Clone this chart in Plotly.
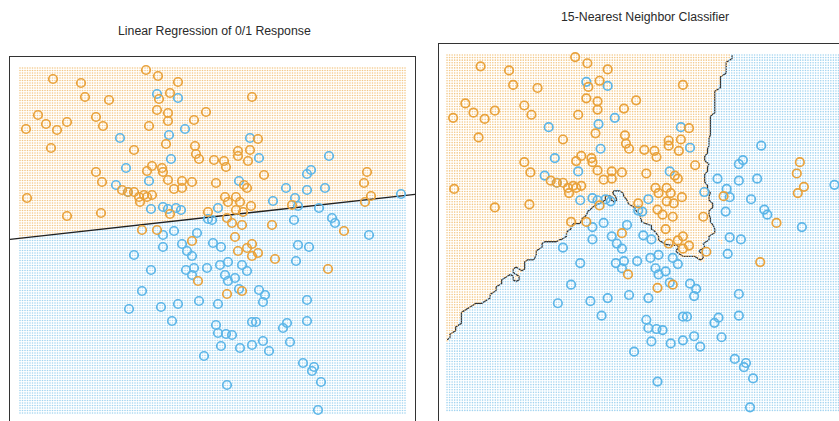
import numpy as np
import plotly.graph_objects as go

# ---------------- data ----------------
orange_x = [3.3, 6.1, 6.5, 8.9, 1.8, 2.6, 3.7, 4.7, 0.6, 7.6, 8.3, 3.1, 11.4, 7.6, 8.2, 0.7, 4.7, 8.1, 12.6,
            10.2, 10.8, 11.4, 11.9, 12.0, 12.4, 12.7, 13.2, 12.7, 13.2, 12.2, 13.7,
            13.8, 15.8, 15.0, 23.2, 13.7, 14.8, 14.8, 18.6, 17.4, 12.9, 14.6, 17.5, 17.6, 17.9, 19.4, 20.4,
            20.6, 21.8, 21.8, 23.0, 22.8, 23.8, 24.4, 14.2, 14.3, 14.8, 16.2, 16.2, 15.4, 17.2, 19.6, 22.4,
            22.7, 15.0, 20.5, 20.8, 21.6, 22.0, 23.1, 21.6, 22.3, 18.8, 20.7, 21.2, 22.2, 25.2, 21.5, 13.9,
            34.7, 34.4, 35.1, 34.5, 27.2, 32.4,
            17.2, 17.8, 20.7, 22.2, 21.8, 22.7, 23.2, 23.2, 23.8, 25.5, 30.8]
orange_y = [33.4, 33.0, 31.6, 31.3, 29.8, 28.9, 28.3, 29.1, 28.4, 29.6, 28.7, 26.5, 26.3, 24.1, 23.1, 21.5, 19.7, 20.0, 34.3,
            22.3, 22.1, 22.1, 21.6, 21.1, 21.8, 21.6, 21.8, 24.2, 24.7, 18.3, 18.3,
            33.7, 33.1, 32.0, 31.6, 30.3, 30.0, 29.2, 30.1, 29.3, 28.7, 26.9, 26.7, 25.9, 25.4, 25.3, 25.2,
            24.6, 26.2, 25.7, 26.3, 25.2, 27.4, 23.8, 24.5, 24.1, 23.3, 23.2, 22.5, 22.4, 23.1, 23.0, 22.8,
            22.5, 19.9, 21.6, 21.1, 21.6, 21.1, 20.7, 20.3, 20.1, 20.1, 19.5, 19.0, 18.8, 18.8, 17.6, 31.4,
            24.1, 23.0, 21.7, 21.1, 20.8, 18.2,
            17.2, 13.2, 11.9, 12.2, 16.2, 16.5, 16.9, 15.7, 16.0, 15.4, 14.4]

blue_x = [10.0, 10.6, 9.6, 10.8,
          13.7, 15.8, 16.5, 14.9, 23.0, 15.1, 23.9, 12.9, 21.9, 13.1, 14.3, 14.8, 15.6, 16.1, 19.8, 18.8,
          19.2, 25.3, 14.3, 15.4, 17.7,
          30.9, 29.1, 28.7, 26.6, 28.7, 30.5, 27.5, 27.8, 29.9, 27.4, 31.2, 31.5, 34.9, 38.1,
          11.4, 12.2, 10.9,
          14.3, 16.2, 16.7, 17.2, 19.3, 20.1, 13.1, 16.6, 17.4, 17.2, 18.7, 20.0, 20.8, 22.2, 22.7, 20.5,
          20.8, 21.5, 21.9, 23.9, 24.5, 24.3, 17.9, 19.8, 15.8, 14.1, 15.2, 19.6, 19.8, 20.6, 21.2, 23.2,
          23.6, 20.1, 22.0, 23.2, 24.3, 24.9, 18.4, 20.7,
          27.8, 28.9, 27.6, 28.7, 26.7, 26.3, 28.7, 27.0, 28.3, 29.4, 29.2, 30.1, 29.8]
blue_y = [27.5, 24.5, 22.8, 22.1,
          31.9, 31.5, 28.4, 27.8, 27.5, 25.4, 25.5, 23.2, 23.2, 20.4, 20.6, 20.4, 20.5, 20.3, 20.5, 19.4,
          19.3, 21.2, 17.8, 18.2, 18.0,
          25.7, 24.3, 23.9, 22.5, 22.3, 22.5, 21.5, 20.7, 20.5, 19.3, 19.5, 19.0, 17.8, 21.9,
          15.8, 12.2, 10.4,
          16.6, 16.9, 16.2, 15.7, 17.0, 16.6, 14.3, 14.3, 14.5, 13.8, 14.5, 14.8, 15.1, 14.8, 14.2, 13.8,
          13.2, 13.5, 12.4, 12.3, 11.8, 11.1, 11.2, 10.9, 10.9, 10.6, 9.2, 8.8, 8.0, 7.9, 7.8, 9.1,
          9.1, 6.7, 6.5, 6.8, 7.2, 6.2, 5.7, 2.8,
          16.8, 16.6, 15.2, 11.3, 9.0, 8.5, 9.2, 7.1, 5.0, 4.6, 4.2, 3.1, 0.3]

# linear regression decision boundary (end points)
lr_x = [-1.0, 39.5]
lr_y = [17.36, 21.87]

titles = ["Linear Regression of 0/1 Response", "15-Nearest Neighbor Classifier"]
k_neighbors = 15
grid_x_lim = [0.0, 38.5]
grid_y_lim = [0.0, 34.5]

# ---------------- computations ----------------
ORANGE = "#E9A23B"
BLUE = "#5DB6E8"
ORANGE_DOT = "#F3C888"
BLUE_DOT = "#A3D4F0"

X = np.column_stack([np.r_[orange_x, blue_x], np.r_[orange_y, blue_y]])
lab = np.r_[np.ones(len(orange_x)), np.zeros(len(blue_x))]
scale = np.array([0.1767, 0.1416])  # original variable units


def knn_prob(px, py):
    P = np.column_stack([px, py])
    d = (((P[:, None, :] - X[None, :, :]) * scale) ** 2).sum(-1)
    idx = np.argpartition(d, k_neighbors, axis=1)[:, :k_neighbors]
    return lab[idx].mean(1)


# dense dot grid
gx = np.arange(grid_x_lim[0], grid_x_lim[1] + 1e-9, 0.25)
gy = np.arange(grid_y_lim[0], grid_y_lim[1] + 1e-9, 0.25)
GX, GY = np.meshgrid(gx, gy)
GXf, GYf = GX.ravel(), GY.ravel()

slope = (lr_y[1] - lr_y[0]) / (lr_x[1] - lr_x[0])
lr_line = lr_y[0] + slope * (GXf - lr_x[0])
lr_orange = GYf > lr_line

knn_orange = knn_prob(GXf, GYf) > 0.5

# contour grid (coarser, as in the original)
cx = np.linspace(grid_x_lim[0], grid_x_lim[1], 69)
cy = np.linspace(grid_y_lim[0], grid_y_lim[1], 99)
CX, CY = np.meshgrid(cx, cy)
CP = knn_prob(CX.ravel(), CY.ravel()).reshape(CX.shape)

fig = go.Figure()

dot = dict(size=1.6, line=dict(width=0))
for xa, ya, mask in [("x", "y", lr_orange), ("x2", "y2", knn_orange)]:
    fig.add_trace(go.Scatter(x=GXf[mask], y=GYf[mask], mode="markers", xaxis=xa, yaxis=ya,
                             marker=dict(color=ORANGE_DOT, **dot), hoverinfo="skip"))
    fig.add_trace(go.Scatter(x=GXf[~mask], y=GYf[~mask], mode="markers", xaxis=xa, yaxis=ya,
                             marker=dict(color=BLUE_DOT, **dot), hoverinfo="skip"))

fig.add_trace(go.Scatter(x=lr_x, y=lr_y, mode="lines", xaxis="x", yaxis="y",
                         line=dict(color="#222222", width=1.3)))

fig.add_trace(go.Contour(x=cx, y=cy, z=CP, xaxis="x2", yaxis="y2", showscale=False,
                         contours=dict(start=0.5, end=0.5, size=1, coloring="none"),
                         line=dict(color="#333333", width=1.3, smoothing=0), hoverinfo="skip"))

pt = dict(symbol="circle-open", size=8.5)
for xa, ya in [("x", "y"), ("x2", "y2")]:
    fig.add_trace(go.Scatter(x=blue_x, y=blue_y, mode="markers", xaxis=xa, yaxis=ya,
                             marker=dict(color=BLUE, line=dict(width=1.7, color=BLUE), **pt)))
    fig.add_trace(go.Scatter(x=orange_x, y=orange_y, mode="markers", xaxis=xa, yaxis=ya,
                             marker=dict(color=ORANGE, line=dict(width=1.7, color=ORANGE), **pt)))

W, H = 839, 421
ax_common = dict(showgrid=False, zeroline=False, showticklabels=False, ticks="",
                 showline=True, linecolor="#333333", linewidth=1.3)

title_font = dict(family="Liberation Sans, Arial", size=12.3, color="#2a2a2a")
fig.update_layout(
    width=W, height=H, margin=dict(l=0, r=0, t=0, b=0),
    paper_bgcolor="white", plot_bgcolor="white", showlegend=False,
    xaxis=dict(domain=[10 / W, 415 / W], range=[-1.0, 39.5], side="top", mirror=False, anchor="y", **ax_common),
    yaxis=dict(domain=[0, (H - 57) / H], range=[-0.8, 35.6], mirror=True, anchor="x", **ax_common),
    xaxis2=dict(domain=[439 / W, 1.0], range=[-0.79, 38.55], side="top", mirror=False, anchor="y2", **ax_common),
    yaxis2=dict(domain=[0, (H - 44) / H], range=[-1.03, 35.57], mirror=False, anchor="x2", **ax_common),
    annotations=[
        dict(text=titles[0], x=214 / W, y=1 - 31 / H, xref="paper", yref="paper", showarrow=False,
             xanchor="center", yanchor="middle", font=title_font),
        dict(text=titles[1], x=645 / W, y=1 - 17 / H, xref="paper", yref="paper", showarrow=False,
             xanchor="center", yanchor="middle", font=title_font),
    ],
)

fig.write_html("out.html", config={"displayModeBar": False},
               post_script="document.body.style.margin='0';document.body.style.overflow='hidden';")
